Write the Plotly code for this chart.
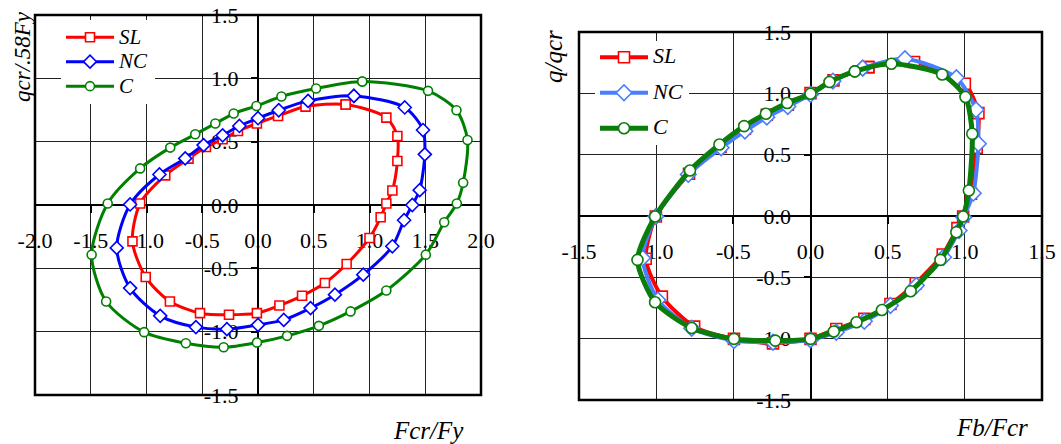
import plotly.graph_objects as go

# ---------------- Left chart data (Fcr/Fy vs qcr/.58Fy) ----------------
sl_l_x = [0.786, 1.151, 1.25, 1.25, 1.205, 1.151, 1.10, 1.00, 0.795, 0.60, 0.395, 0.192, -0.01,
          -0.26, -0.52, -0.79, -1.007, -1.126, -1.057, -0.832, -0.623, -0.467, -0.317, -0.18,
          -0.01, 0.18, 0.426]
sl_l_y = [0.793, 0.690, 0.545, 0.347, 0.115, 0.012, -0.097, -0.26, -0.466, -0.616, -0.717, -0.793,
          -0.854, -0.867, -0.854, -0.762, -0.569, -0.287, 0.012, 0.234, 0.366, 0.458, 0.519, 0.584,
          0.643, 0.703, 0.777]
nc_l_x = [0.86, 1.316, 1.48, 1.496, 1.45, 1.384, 1.31, 1.205, 0.944, 0.69, 0.471, 0.231, 0.0,
          -0.279, -0.557, -0.877, -1.147, -1.267, -1.147, -0.884, -0.653, -0.488, -0.317, -0.167,
          0.0, 0.186, 0.449]
nc_l_y = [0.861, 0.77, 0.592, 0.40, 0.117, 0.0, -0.12, -0.326, -0.55, -0.708, -0.814, -0.907,
          -0.946, -0.98, -0.964, -0.875, -0.656, -0.339, 0.004, 0.241, 0.368, 0.473, 0.55, 0.624,
          0.685, 0.748, 0.822]
c_l_x = [0.935, 1.525, 1.78, 1.879, 1.84, 1.783, 1.67, 1.505, 1.151, 0.83, 0.546, 0.261, -0.009,
         -0.308, -0.647, -1.021, -1.362, -1.492, -1.348, -1.057, -0.787, -0.563, -0.383, -0.218,
         -0.014, 0.21, 0.521]
c_l_y = [0.975, 0.901, 0.748, 0.513, 0.176, 0.012, -0.136, -0.392, -0.675, -0.84, -0.954, -1.033,
         -1.086, -1.123, -1.091, -1.004, -0.762, -0.392, 0.012, 0.289, 0.453, 0.558, 0.643, 0.722,
         0.782, 0.857, 0.92]

# ---------------- Right chart data (Fb/Fcr vs q/qcr) ----------------
sl_r_x = [0.375, 0.671, 1.0, 1.088, 1.077, 1.04, 0.989, 0.952, 0.857, 0.682, 0.518, 0.349, 0.167,
          0.0, -0.243, -0.496, -0.754, -0.963, -1.068, -1.002, -0.787, -0.583, -0.425, -0.283,
          -0.147, 0.0, 0.149]
sl_r_y = [1.214, 1.255, 1.078, 0.839, 0.556, 0.181, -0.004, -0.099, -0.314, -0.548, -0.717, -0.839,
          -0.921, -1.002, -1.038, -1.002, -0.902, -0.657, -0.349, -0.004, 0.344, 0.562, 0.711,
          0.826, 0.907, 1.002, 1.106]
nc_r_x = [0.338, 0.612, 0.945, 1.072, 1.088, 1.055, 0.993, 0.963, 0.862, 0.686, 0.518, 0.349, 0.167,
          0.0, -0.243, -0.496, -0.77, -0.989, -1.088, -1.002, -0.792, -0.579, -0.425, -0.283,
          -0.147, 0.0, 0.145]
nc_r_y = [1.206, 1.282, 1.127, 0.866, 0.589, 0.186, -0.01, -0.118, -0.336, -0.567, -0.73, -0.858,
          -0.948, -1.01, -1.029, -1.016, -0.915, -0.684, -0.342, -0.004, 0.339, 0.556, 0.692,
          0.806, 0.893, 0.991, 1.10]
c_r_x = [0.287, 0.524, 0.853, 1.004, 1.048, 1.026, 0.989, 0.945, 0.842, 0.649, 0.463, 0.298, 0.151,
         0.0, -0.228, -0.496, -0.77, -1.007, -1.121, -1.007, -0.781, -0.59, -0.43, -0.289,
         -0.151, 0.0, 0.123]
c_r_y = [1.179, 1.241, 1.154, 0.97, 0.67, 0.208, -0.004, -0.132, -0.358, -0.613, -0.766, -0.866,
         -0.942, -1.002, -1.016, -1.002, -0.913, -0.703, -0.358, -0.004, 0.371, 0.583, 0.733,
         0.834, 0.921, 0.997, 1.092]

series_names = ["SL", "NC", "C"]

# tick labels
l_xticks = [-2.0, -1.5, -1.0, -0.5, 0.0, 0.5, 1.0, 1.5, 2.0]
l_xtext = ["-2.0", "-1.5", "-1.0", "-0.5", "0.0", "0.5", "1.0", "1.5", "2.0"]
l_yticks = [-1.5, -1.0, -0.5, 0.0, 0.5, 1.0, 1.5]
l_ytext = ["-1.5", "-1.0", "-0.5", "0.0", "0.5", "1.0", "1.5"]
r_xticks = [-1.5, -1.0, -0.5, 0.0, 0.5, 1.0, 1.5]
r_xtext = ["-1.5", "-1.0", "-0.5", "0.0", "0.5", "1.0", "1.5"]
r_yticks = [-1.5, -1.0, -0.5, 0.0, 0.5, 1.0, 1.5]
r_ytext = ["-1.5", "-1.0", "-0.5", "0.0", "0.5", "1.0", "1.5"]

W, H = 1061, 444
SERIF = "Liberation Serif, Times New Roman, serif"


def closed(v):
    return list(v) + [v[0]]


fig = go.Figure()

left_styles = [
    ("red", "square", sl_l_x, sl_l_y),
    ("#0000ff", "diamond", nc_l_x, nc_l_y),
    ("#008000", "circle", c_l_x, c_l_y),
]
for name, (col, sym, xs, ys) in zip(series_names, left_styles):
    fig.add_trace(go.Scatter(
        x=closed(xs), y=closed(ys), xaxis="x", yaxis="y", mode="lines+markers",
        name='<span style="font-size:21px"><i>%s</i></span>' % name,
        legend="legend", legendgroup="l" + name,
        line=dict(color=col, width=3, shape="spline", smoothing=0.8),
        marker=dict(symbol=sym, size=9 if sym != "diamond" else 10, color="white",
                    line=dict(color=col, width=1.6)),
    ))

right_styles = [
    ("red", "square", 4, sl_r_x, sl_r_y),
    ("#4a7dff", "diamond", 4, nc_r_x, nc_r_y),
    ("#0a7d0a", "circle", 5, c_r_x, c_r_y),
]
for name, (col, sym, lw, xs, ys) in zip(series_names, right_styles):
    fig.add_trace(go.Scatter(
        x=closed(xs), y=closed(ys), xaxis="x2", yaxis="y2", mode="lines+markers",
        name='<span style="font-size:22px"><i>%s</i></span>' % name,
        legend="legend2", legendgroup="r" + name,
        line=dict(color=col, width=lw, shape="spline", smoothing=0.7),
        marker=dict(symbol=sym, size=11 if sym != "diamond" else 12, color="white",
                    line=dict(color=col, width=1.6)),
    ))

tickfont = dict(family=SERIF, size=22, color="black")


def xax(domain, rng, tv, tt, ypos):
    return dict(domain=domain, range=rng, tickvals=tv, ticktext=tt, anchor="free",
                position=ypos, showgrid=True, gridcolor="#222", gridwidth=1,
                zeroline=True, zerolinecolor="black", zerolinewidth=2.2,
                showline=False, ticks="outside", ticklen=7, tickwidth=1.5, tickcolor="black",
                tickfont=tickfont, ticklabelstandoff=9, layer="below traces",
                automargin=False, fixedrange=True)


def yax(domain, rng, tv, tt, xpos):
    return dict(domain=domain, range=rng, tickvals=tv, ticktext=tt, anchor="free",
                position=xpos, showgrid=True, gridcolor="#222", gridwidth=1,
                zeroline=True, zerolinecolor="black", zerolinewidth=2.2,
                showline=False, ticks="outside", ticklen=7, tickwidth=1.5, tickcolor="black",
                tickfont=tickfont, ticklabelstandoff=8, layer="below traces",
                automargin=False, fixedrange=True)


L_x0, L_x1, L_y0, L_y1 = 35, 481, 15, 395
R_x0, R_x1, R_y0, R_y1 = 579, 1042, 32, 400

fig.update_layout(
    width=W, height=H, margin=dict(l=0, r=0, t=0, b=0, autoexpand=False),
    paper_bgcolor="white", plot_bgcolor="white",
    xaxis=xax([L_x0 / W, L_x1 / W], [-2, 2], l_xticks, l_xtext, 1 - (L_y0 + L_y1) / 2 / H),
    yaxis=yax([1 - L_y1 / H, 1 - L_y0 / H], [-1.5, 1.5], l_yticks, l_ytext, (L_x0 + L_x1) / 2 / W),
    xaxis2=xax([R_x0 / W, R_x1 / W], [-1.5, 1.5], r_xticks, r_xtext, 1 - (R_y0 + R_y1) / 2 / H),
    yaxis2=yax([1 - R_y1 / H, 1 - R_y0 / H], [-1.5, 1.5], r_yticks, r_ytext, (R_x0 + R_x1) / 2 / W),
    legend=dict(x=61 / W, y=1 - 20 / H, xanchor="left", yanchor="top", bgcolor="white",
                borderwidth=0, font=dict(family=SERIF, size=16.5, color="black"),
                tracegroupgap=0, itemwidth=48),
    legend2=dict(x=595 / W, y=1 - 41 / H, xanchor="left", yanchor="top", bgcolor="white",
                 borderwidth=0, font=dict(family=SERIF, size=15, color="black"),
                 tracegroupgap=13, itemwidth=48),
    showlegend=True,
    shapes=[
        dict(type="rect", xref="x domain", yref="y domain", x0=0, x1=1, y0=0, y1=1,
             line=dict(color="black", width=2.5), layer="above"),
        dict(type="rect", xref="x2 domain", yref="y2 domain", x0=0, x1=1, y0=0, y1=1,
             line=dict(color="black", width=2.5), layer="above"),
    ],
    annotations=[
        dict(text="<i>qcr/.58Fy</i>", xref="paper", yref="paper", x=22 / W, y=1 - 57 / H,
             xanchor="center", yanchor="middle",
             textangle=-90, showarrow=False, font=dict(family=SERIF, size=23, color="black")),
        dict(text="<i>Fcr/Fy</i>", xref="paper", yref="paper", x=428 / W, y=1 - 430 / H,
             xanchor="center", yanchor="middle",
             showarrow=False, font=dict(family=SERIF, size=25, color="black")),
        dict(text="<i>q/qcr</i>", xref="paper", yref="paper", x=553 / W, y=1 - 57 / H,
             xanchor="center", yanchor="middle",
             textangle=-90, showarrow=False, font=dict(family=SERIF, size=25, color="black")),
        dict(text="<i>Fb/Fcr</i>", xref="paper", yref="paper", x=992 / W, y=1 - 427 / H,
             xanchor="center", yanchor="middle",
             showarrow=False, font=dict(family=SERIF, size=25, color="black")),
    ],
)

fig.write_html("out.html")
